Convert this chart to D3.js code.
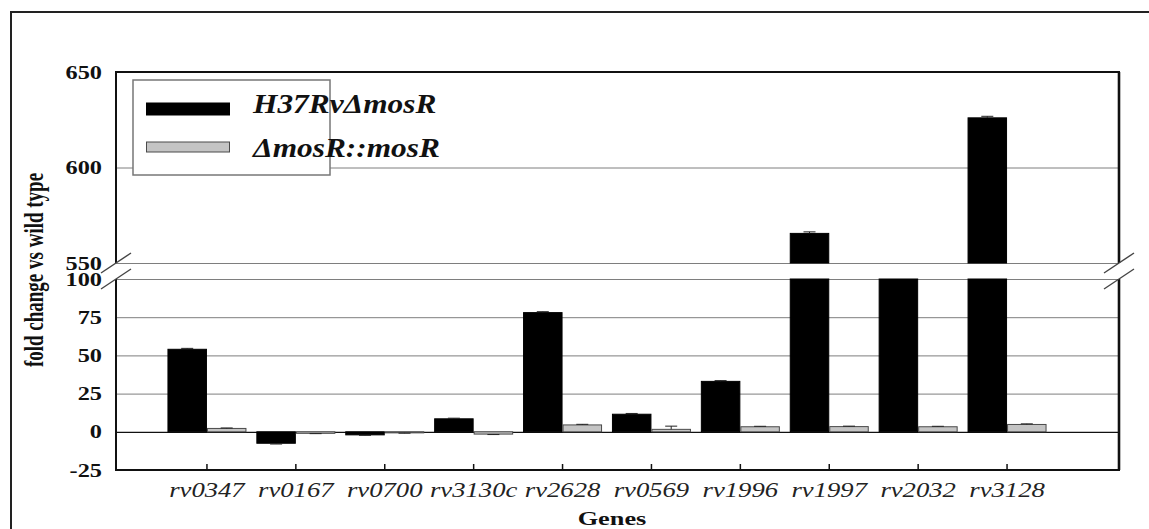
<!DOCTYPE html>
<html>
<head>
<meta charset="utf-8">
<script src="https://cdn.jsdelivr.net/npm/d3@7/dist/d3.min.js"></script>
<style>
  html, body { margin: 0; padding: 0; background: #fff; }
  svg { display: block; }
</style>
</head>
<body>
<svg id="chart" width="1149" height="529"></svg>
<script>
// Gene expression fold change (vs wild type) for the mosR mutant and complemented strain
const genes = ["rv0347", "rv0167", "rv0700", "rv3130c", "rv2628", "rv0569", "rv1996", "rv1997", "rv2032", "rv3128"];
const mutantFold = [54, -7.5, -2, 8.5, 78, 11.5, 33, 565.5, 100, 626];
const mutantErr = [0.6, 0.5, 0.3, 0.4, 0.6, 0.5, 0.5, 0.8, 0, 0.8];
const complementFold = [2.2, -1, -0.7, -1.5, 4.5, 1.6, 3.3, 3.4, 3.3, 4.8];
const complementErr = [0.3, 0.2, 0.2, 0.3, 0.4, 2.1, 0.3, 0.3, 0.3, 0.4];
const seriesNames = ["H37Rv\u0394mosR", "\u0394mosR::mosR"];
const lowerTicks = [-25, 0, 25, 50, 75, 100];
const upperTicks = [550, 600, 650];

const serif = "'Liberation Serif', 'Times New Roman', serif";

const svg = d3.select("#chart");

// plot frame
const plotL = 116, plotR = 1119, plotT = 72, plotB = 470;
const lowTop = 279, highBottom = 263;

// broken y axis: two linear segments
const yLow = d3.scaleLinear().domain([-25, 100]).range([plotB, lowTop]);
const yHigh = d3.scaleLinear().domain([550, 650]).range([highBottom, plotT]);

const x = d3.scaleBand().domain(genes).range([162.5, 1051.5]).padding(0);
const barW = 39.5;

// outer border of the figure
svg.append("path")
  .attr("d", `M11,535 L11,12 L1155,12`)
  .attr("fill", "none").attr("stroke", "#222").attr("stroke-width", 2);

// horizontal gridlines from both axis segments
function grid(scale, ticks) {
  const g = svg.append("g").attr("transform", `translate(${plotL},0)`)
    .call(d3.axisLeft(scale).tickValues(ticks).tickSize(-(plotR - plotL)).tickFormat(""));
  g.select(".domain").remove();
  g.selectAll(".tick line")
    .attr("stroke", d => d === 0 ? "#111" : "#7e7e7e")
    .attr("stroke-width", d => d === 0 ? 1.3 : 1);
  return g;
}
grid(yLow, lowerTicks.filter(d => d !== -25));
grid(yHigh, upperTicks.filter(d => d !== 650));

// bars, split across the axis break
function barSegments(v) {
  const segs = [];
  if (v < 0) segs.push([yLow(0), yLow(v)]);
  else {
    segs.push([yLow(Math.min(v, 100)), yLow(0)]);
    if (v > 550) segs.push([yHigh(v), yHigh(550)]);
  }
  return segs;
}
function yOf(v) { return v > 550 ? yHigh(v) : yLow(Math.min(v, 100)); }

const rows = genes.map((g, i) => ({
  gene: g,
  vals: [
    { s: 0, v: mutantFold[i], e: mutantErr[i] },
    { s: 1, v: complementFold[i], e: complementErr[i] }
  ]
}));

const fills = ["#000", "#c4c4c4"];
const strokes = ["#000", "#4a4a4a"];

rows.forEach(r => {
  const cx = x(r.gene) + x.bandwidth() / 2;
  r.vals.forEach(d => {
    const x0 = d.s === 0 ? cx - barW : cx;
    barSegments(d.v).forEach(([y0, y1]) => {
      svg.append("rect")
        .attr("x", x0 + 0.5).attr("y", y0)
        .attr("width", barW - 1).attr("height", Math.max(0.8, y1 - y0))
        .attr("fill", fills[d.s]).attr("stroke", strokes[d.s]).attr("stroke-width", 1);
    });
    if (d.e > 0) {
      const bx = x0 + barW / 2;
      const sgn = d.v >= 0 ? 1 : -1;
      const ya = yOf(d.v), yb = yOf(d.v + sgn * d.e);
      const eg = svg.append("g").attr("stroke", "#222").attr("stroke-width", 1);
      eg.append("line").attr("x1", bx).attr("x2", bx).attr("y1", ya).attr("y2", yb);
      eg.append("line").attr("x1", bx - 6).attr("x2", bx + 6).attr("y1", yb).attr("y2", yb);
    }
  });
});

// axis lines (left/right broken, top and bottom solid)
const axisStroke = "#111";
[[plotL, 2], [plotR, 2.6]].forEach(([ax, w]) => {
  svg.append("line").attr("x1", ax).attr("x2", ax).attr("y1", plotT).attr("y2", highBottom)
    .attr("stroke", axisStroke).attr("stroke-width", w);
  svg.append("line").attr("x1", ax).attr("x2", ax).attr("y1", lowTop).attr("y2", plotB)
    .attr("stroke", axisStroke).attr("stroke-width", w);
  [highBottom, lowTop].forEach(by => {
    svg.append("line")
      .attr("x1", ax - 15).attr("y1", by + 10).attr("x2", ax + 15).attr("y2", by - 10)
      .attr("stroke", "#444").attr("stroke-width", 1.4);
  });
});
svg.append("line").attr("x1", plotL - 1).attr("x2", plotR + 1).attr("y1", plotT).attr("y2", plotT)
  .attr("stroke", axisStroke).attr("stroke-width", 2);

// y tick labels (plain hyphen for negatives)
function yLabels(scale, ticks) {
  const g = svg.append("g").attr("transform", `translate(${plotL},0)`)
    .call(d3.axisLeft(scale).tickValues(ticks).tickSize(0).tickPadding(0).tickFormat(d => String(d)));
  g.select(".domain").remove();
  g.selectAll(".tick text")
    .attr("x", 0).attr("dy", "0.34em")
    .attr("transform", `translate(-14,0) scale(1.35,1)`)
    .attr("font-family", serif).attr("font-size", 18).attr("font-weight", "bold")
    .attr("fill", "#111");
}
yLabels(yLow, lowerTicks);
yLabels(yHigh, upperTicks);

// x axis with inward ticks
const xa = svg.append("g").attr("transform", `translate(0,${plotB})`)
  .call(d3.axisBottom(x).tickSize(-6).tickSizeOuter(0));
xa.select(".domain").attr("d", `M${plotL - 1},0H${plotR + 1}`).attr("stroke", axisStroke).attr("stroke-width", 2);
xa.selectAll(".tick line").attr("stroke", axisStroke).attr("stroke-width", 1.5);
xa.selectAll(".tick text")
  .attr("y", 0).attr("dy", 0)
  .attr("transform", `translate(0,27) scale(1.3,1)`)
  .attr("font-family", serif).attr("font-size", 20.5).attr("font-style", "italic")
  .attr("fill", "#222");

// axis titles
function stretchedText(tx, ty, str, opts) {
  return svg.append("text")
    .attr("transform", `translate(${tx},${ty}) scale(${opts.sx},1)` + (opts.rotate ? ` rotate(${opts.rotate})` : ""))
    .attr("text-anchor", "middle")
    .attr("font-family", serif)
    .attr("font-size", opts.size)
    .attr("font-weight", "bold")
    .attr("fill", "#111")
    .text(str);
}
stretchedText(612, 525, "Genes", { size: 19.5, sx: 1.35 });
stretchedText(43, 270, "fold change vs wild type", { size: 19, sx: 1.4, rotate: -90 });

// legend
const lg = svg.append("g");
lg.append("rect").attr("x", 133).attr("y", 80).attr("width", 197).attr("height", 95)
  .attr("fill", "#fff").attr("stroke", "#777").attr("stroke-width", 1.5);
const legendRows = [{ y: 103, h: 12 }, { y: 142, h: 10 }];
seriesNames.forEach((name, i) => {
  lg.append("rect").attr("x", 146.5).attr("y", legendRows[i].y)
    .attr("width", 83).attr("height", legendRows[i].h)
    .attr("fill", fills[i]).attr("stroke", strokes[i]).attr("stroke-width", 1);
  lg.append("text")
    .attr("transform", `translate(253,${i === 0 ? 113 : 157}) scale(1.12,1)`)
    .attr("font-family", serif).attr("font-size", 28)
    .attr("font-weight", "bold").attr("font-style", "italic").attr("fill", "#111")
    .text(name);
});
</script>
</body>
</html>
